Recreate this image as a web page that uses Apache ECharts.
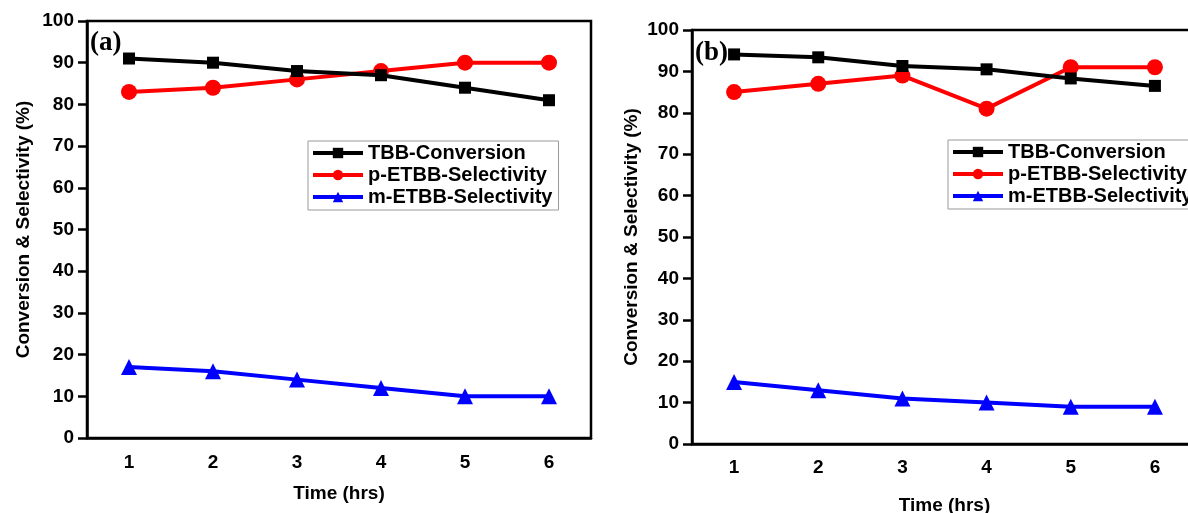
<!DOCTYPE html>
<html>
<head>
<meta charset="utf-8">
<script src="https://cdn.jsdelivr.net/npm/echarts@6/dist/echarts.min.js"></script>
<style>
html, body { margin: 0; padding: 0; background: #fff; }
#main { width: 1188px; height: 513px; }
</style>
</head>
<body>
<div id="main"></div>
<script>
var hours = ['1', '2', '3', '4', '5', '6'];
var names = ['TBB-Conversion', 'p-ETBB-Selectivity', 'm-ETBB-Selectivity'];

// panel (a)
var tbbA = [91, 90, 88, 87, 84, 81];
var pEtbbA = [83, 84, 86, 88, 90, 90];
var mEtbbA = [17, 16, 14, 12, 10, 10];

// panel (b)
var tbbB = [94.1, 93.4, 91.3, 90.5, 88.3, 86.5];
var pEtbbB = [85, 87, 89, 81, 91, 91];
var mEtbbB = [15, 13, 11, 10, 9, 9];

var colors = ['#000000', '#ff0000', '#0000ff'];
var symbols = ['rect', 'circle', 'triangle'];
var symbolSizes = [12, 16, 16];
var font = 'Liberation Sans, Arial, sans-serif';

function xAxis(idx, nameGap, margin) {
  return {
    type: 'category',
    gridIndex: idx,
    data: hours,
    boundaryGap: true,
    name: 'Time (hrs)',
    nameLocation: 'middle',
    nameGap: nameGap,
    nameTextStyle: { color: '#000', fontSize: 19, fontWeight: 'bold', fontFamily: font },
    axisLine: { lineStyle: { color: '#000', width: 2.5 } },
    axisTick: { alignWithLabel: true, length: 9, lineStyle: { color: '#000', width: 2.5 } },
    axisLabel: { color: '#000', fontSize: 19, fontWeight: 'bold', fontFamily: font, margin: margin },
    splitLine: { show: false }
  };
}

function yAxis(idx, nameGap) {
  return {
    type: 'value',
    gridIndex: idx,
    min: 0,
    max: 100,
    interval: 10,
    name: 'Conversion & Selectivity (%)',
    nameLocation: 'middle',
    nameGap: nameGap,
    nameTextStyle: { color: '#000', fontSize: 19, fontWeight: 'bold', fontFamily: font },
    axisLine: { show: true, lineStyle: { color: '#000', width: 2.5 } },
    axisTick: { show: true, length: 9, lineStyle: { color: '#000', width: 2.5 } },
    axisLabel: { color: '#000', fontSize: 19, fontWeight: 'bold', fontFamily: font, margin: 13 },
    splitLine: { show: false }
  };
}

function makeSeries(idx, sets) {
  return sets.map(function (d, i) {
    return {
      name: names[i],
      type: 'line',
      xAxisIndex: idx,
      yAxisIndex: idx,
      data: d,
      symbol: symbols[i],
      symbolSize: symbolSizes[i],
      showSymbol: true,
      lineStyle: { color: colors[i], width: 4 },
      itemStyle: { color: colors[i] },
      z: 3 - i
    };
  });
}

function legend(left, top) {
  return {
    left: left,
    top: top,
    orient: 'vertical',
    data: names,
    itemWidth: 50,
    itemHeight: 13,
    itemGap: 2,
    padding: [2, 6, 3, 3],
    borderColor: '#999',
    borderWidth: 1,
    lineStyle: { width: 4 },
    textStyle: { color: '#000', fontSize: 20, fontWeight: 'bold', fontFamily: font, padding: [0, 0, 0, 0] }
  };
}

var option = {
  animation: false,
  backgroundColor: '#fff',
  grid: [
    { left: 87, top: 21, width: 504, height: 417, outerBoundsMode: 'none', show: true, borderColor: '#000', borderWidth: 2.5, backgroundColor: 'transparent' },
    { left: 692, top: 30, width: 505, height: 414, outerBoundsMode: 'none', show: true, borderColor: '#000', borderWidth: 2.5, backgroundColor: 'transparent' }
  ],
  xAxis: [xAxis(0, 46, 15), xAxis(1, 52, 14)],
  yAxis: [yAxis(0, 54), yAxis(1, 51)],
  legend: [legend(308, 141), legend(948, 140)],
  series: makeSeries(0, [tbbA, pEtbbA, mEtbbA]).concat(makeSeries(1, [tbbB, pEtbbB, mEtbbB])),
  graphic: [
    { type: 'text', left: 90, top: 30, z: 10, style: { text: '(a)', font: 'bold 27px "Liberation Serif", "Times New Roman", serif', fill: '#000' } },
    { type: 'text', left: 695, top: 40, z: 10, style: { text: '(b)', font: 'bold 27px "Liberation Serif", "Times New Roman", serif', fill: '#000' } }
  ]
};

var myChart = echarts.init(document.getElementById('main'));
myChart.setOption(option);
</script>
</body>
</html>
